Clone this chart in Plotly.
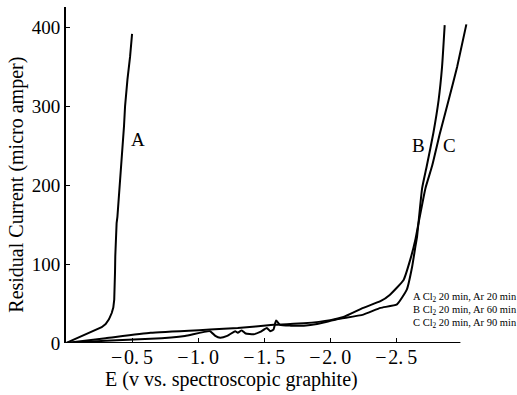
import plotly.graph_objects as go

# Curve A
a_e = [0, -0.15, -0.27, -0.3, -0.325, -0.346, -0.358, -0.365, -0.369, -0.371, -0.373, -0.376, -0.379,
       -0.383, -0.389, -0.398, -0.409, -0.42, -0.43, -0.439, -0.447, -0.456, -0.465, -0.485, -0.5]
a_i = [0, 11, 20, 24, 30, 38, 45, 55, 70, 90, 110, 130, 145,
       152, 160, 180, 200, 225, 250, 275, 300, 320, 334, 363, 392]

# Curve B (wiggly baseline, steeper rise)
b_e = [0, -0.3, -0.64, -0.9, -1.09, -1.13, -1.167, -1.22, -1.28, -1.3, -1.33, -1.36, -1.42, -1.47, -1.52,
       -1.545, -1.57, -1.59, -1.62, -1.7, -1.8, -1.9, -2.05, -2.25, -2.38, -2.505, -2.58, -2.62, -2.644,
       -2.657, -2.695, -2.73, -2.78, -2.82, -2.846, -2.866]
b_i = [0, 3, 5.3, 9, 15, 9, 6.6, 9, 15, 13, 16, 12, 11, 14, 19,
       15, 17, 28.5, 23, 22, 22, 24, 30, 36, 44.5, 49, 68, 97, 122,
       135, 196, 224, 266, 308, 350, 403]

# Curve C (smooth baseline)
c_e = [0, -0.3, -0.64, -1.09, -1.3, -1.57, -1.8, -2.0, -2.1, -2.25, -2.38, -2.45, -2.555, -2.606, -2.644,
       -2.66, -2.72, -2.77, -2.83, -2.896, -2.96, -3.03]
c_i = [0, 6, 13, 17, 19, 23, 25, 29, 33, 44.6, 53, 61, 80, 106, 131,
       145, 196, 224, 266, 308, 350, 404]

x_ticks = [-0.5, -1.0, -1.5, -2.0, -2.5]
x_tick_text = ["−\u200a0.\u20095", "−\u200a1.\u20090", "−\u200a1.\u20095", "−\u200a2.\u20090", "−\u200a2.\u20095"]
y_ticks = [0, 100, 200, 300, 400]

legend_lines = [
    "A Cl<sub>2</sub> 20 min, Ar 20 min",
    "B Cl<sub>2</sub> 20 min, Ar 60 min",
    "C Cl<sub>2</sub> 20 min, Ar 90 min",
]

SERIF = "Liberation Serif"

fig = go.Figure()
fig.add_trace(go.Scatter(x=a_e, y=a_i, mode="lines", line=dict(color="black", width=2),
                         name="A", showlegend=False, hoverinfo="skip"))
for name, xe, yi in [("B", b_e, b_i), ("C", c_e, c_i)]:
    fig.add_trace(go.Scatter(x=xe, y=yi, mode="lines",
                             line=dict(color="black", width=2, shape="spline", smoothing=0.4),
                             name=name, showlegend=False, hoverinfo="skip"))

# curve labels
for txt, xe, yi in [("A", -0.545, 258), ("B", -2.665, 251), ("C", -2.9, 251)]:
    fig.add_annotation(x=xe, y=yi, text=txt, showarrow=False, font=dict(family=SERIF, size=19, color="black"))

for k, t in enumerate(legend_lines):
    fig.add_annotation(x=(411 - 66) / 402.6, y=(343.5 - (298 + 13 * k)) / 336.5,
                       xref="paper", yref="paper", xanchor="left", yanchor="middle",
                       text=t, showarrow=False, font=dict(family=SERIF, size=10.5, color="black"))

# axis titles placed as in reference
fig.add_annotation(x=(231 - 66) / 402.6, y=(343.5 - 380) / 336.5, xref="paper", yref="paper",
                   text="E (v vs. spectroscopic graphite)", showarrow=False,
                   font=dict(family=SERIF, size=20, color="black"), xanchor="center", yanchor="middle")
fig.add_annotation(x=(17 - 66) / 402.6, y=(343.5 - 185) / 336.5, xref="paper", yref="paper",
                   text="Residual Current (micro amper)", showarrow=False, textangle=-90,
                   font=dict(family=SERIF, size=20, color="black"), xanchor="center", yanchor="middle")

# x axis line that stops short of the right edge
fig.add_shape(type="line", x0=0, x1=-2.985, y0=0, y1=0, xref="x", yref="y",
              line=dict(color="black", width=2), layer="above")

fig.update_xaxes(range=[0, -3.05], tickvals=x_ticks, ticktext=x_tick_text, ticks="inside", ticklen=5,
                 tickcolor="black", showline=False, showgrid=False, zeroline=False,
                 tickfont=dict(family=SERIF, size=20, color="black"))
fig.update_yaxes(range=[0, 426], tickvals=y_ticks, ticks="inside", ticklen=4, tickcolor="black",
                 showline=True, linecolor="black", linewidth=2, showgrid=False, zeroline=False,
                 tickfont=dict(family=SERIF, size=19, color="black"))
fig.update_layout(width=517, height=395, margin=dict(l=66, r=48.4, t=7, b=51.5),
                  plot_bgcolor="white", paper_bgcolor="white",
                  font=dict(family=SERIF, size=19, color="black"))

fig.write_html("out.html")
